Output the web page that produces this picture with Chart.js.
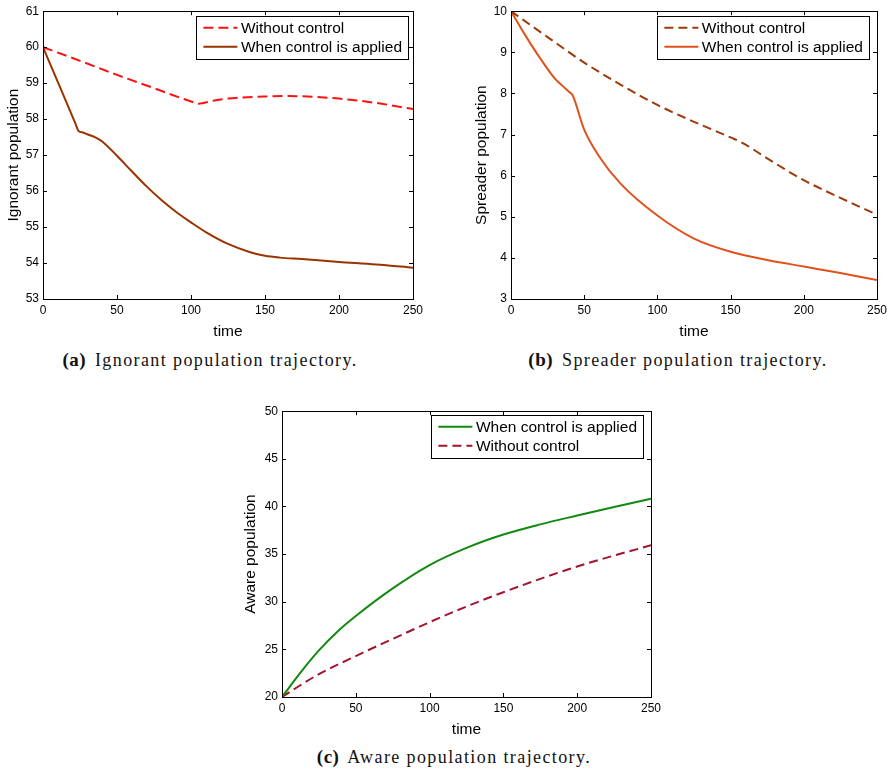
<!DOCTYPE html>
<html><head><meta charset="utf-8">
<script src="https://cdn.jsdelivr.net/npm/chart.js@4.4.1/dist/chart.umd.min.js"></script>
<style>
html,body{margin:0;padding:0;background:#fff;}
body{width:891px;height:770px;overflow:hidden;position:relative;}
canvas{position:absolute;}
.cap{position:absolute;font-family:"Liberation Serif","Times New Roman",serif;font-size:18px;line-height:20px;color:#111;white-space:nowrap;transform:translateX(-50%);letter-spacing:1.4px;}
.cap b{font-weight:bold;font-size:19px;letter-spacing:0.5px;margin-right:3px;}
</style>
</head><body>
<canvas id="cA" width="430" height="345" style="left:0;top:0"></canvas>
<canvas id="cB" width="431" height="345" style="left:460px;top:0"></canvas>
<canvas id="cC" width="441" height="345" style="left:230px;top:400px"></canvas>
<div class="cap" style="left:210px;top:350px"><b>(a)</b> Ignorant population trajectory.</div>
<div class="cap" style="left:678px;top:350px"><b>(b)</b> Spreader population trajectory.</div>
<div class="cap" style="left:454px;top:747px"><b>(c)</b> Aware population trajectory.</div>
<script>
// ---------- data ----------
const seriesLabels = ["Without control", "When control is applied"];
const xTicks = [0, 50, 100, 150, 200, 250];

// (a) Ignorant population
const timeIgnWithout = [0, 25, 50, 75, 100, 105, 115, 125, 150, 165, 200, 225, 250];
const ignorantWithout = [60, 59.62, 59.23, 58.86, 58.49, 58.43, 58.51, 58.57, 58.63, 58.64, 58.57, 58.45, 58.28];
const timeIgnControl = [0, 12, 22, 24, 27, 30, 35, 40, 50, 60, 70, 80, 90, 100, 110, 125, 140, 150, 160, 175, 200, 225, 250];
const ignorantControl = [60, 58.84, 57.87, 57.67, 57.63, 57.58, 57.50, 57.38, 56.98, 56.55, 56.13, 55.75, 55.42, 55.13, 54.86, 54.53, 54.30, 54.20, 54.15, 54.11, 54.03, 53.96, 53.87];
const ignorantTicks = [53, 54, 55, 56, 57, 58, 59, 60, 61];

// (b) Spreader population
const timeSprWithout = [0, 25, 50, 75, 100, 125, 150, 158, 175, 200, 225, 250];
const spreaderWithout = [10, 9.37, 8.75, 8.21, 7.72, 7.31, 6.93, 6.80, 6.42, 5.89, 5.46, 5.05];
const timeSprControl = [0, 10, 20, 30, 35, 40, 42, 50, 60, 75, 100, 125, 150, 175, 200, 225, 250];
const spreaderControl = [10, 9.40, 8.85, 8.36, 8.19, 8.03, 7.96, 7.12, 6.48, 5.80, 5.03, 4.47, 4.15, 3.95, 3.79, 3.63, 3.46];
const spreaderTicks = [3, 4, 5, 6, 7, 8, 9, 10];

// (c) Aware population
const timeAwareControl = [0, 12.5, 25, 37.5, 50, 75, 100, 125, 150, 175, 200, 225, 250];
const awareControl = [20, 22.56, 24.89, 26.86, 28.5, 31.4, 33.85, 35.65, 37.05, 38.12, 39.05, 39.95, 40.82];
const timeAwareWithout = [0, 10, 25, 50, 75, 100, 125, 150, 175, 200, 225, 250];
const awareWithout = [20, 21.0, 22.4, 24.3, 26.1, 27.85, 29.5, 31.0, 32.4, 33.7, 34.85, 35.92];
const awareTicks = [20, 25, 30, 35, 40, 45, 50];

// ---------- helpers ----------
const SANS = '"Liberation Sans", Arial, Helvetica, sans-serif';
const pts = (xs, ys) => xs.map((x, i) => ({x: x, y: ys[i]}));

const framePlugin = {
  id: 'frameTicks',
  afterDatasetsDraw(chart) {
    const {ctx, chartArea: a, scales: {x, y}} = chart;
    const L = 4;
    ctx.save();
    ctx.strokeStyle = '#000';
    ctx.lineWidth = 1;
    ctx.beginPath();
    x.ticks.forEach(t => {
      const px = Math.round(x.getPixelForValue(t.value)) + 0.5;
      ctx.moveTo(px, a.bottom); ctx.lineTo(px, a.bottom - L);
      ctx.moveTo(px, a.top); ctx.lineTo(px, a.top + L);
    });
    y.ticks.forEach(t => {
      const py = Math.round(y.getPixelForValue(t.value)) + 0.5;
      ctx.moveTo(a.left, py); ctx.lineTo(a.left + L, py);
      ctx.moveTo(a.right, py); ctx.lineTo(a.right - L, py);
    });
    ctx.stroke();
    ctx.strokeRect(Math.round(a.left) + 0.5, Math.round(a.top) + 0.5, Math.round(a.right - a.left), Math.round(a.bottom - a.top));
    ctx.restore();
  }
};

const legendPlugin = {
  id: 'boxLegend',
  afterDraw(chart, args, o) {
    const {ctx, chartArea: a} = chart;
    ctx.save();
    ctx.font = o.fontSize + 'px ' + SANS;
    const items = o.order.map(i => chart.data.datasets[i]);
    const tw = Math.max(...items.map(d => ctx.measureText(d.label).width));
    const w = o.padL + o.lineLen + o.gap + tw + o.padR;
    const h = o.height;
    const right = a.right - o.dx;
    const top = a.top + o.dy;
    const left = right - w;
    ctx.fillStyle = '#fff';
    ctx.fillRect(left, top, w, h);
    ctx.strokeStyle = '#000';
    ctx.lineWidth = 1;
    ctx.strokeRect(Math.round(left) + 0.5, Math.round(top) + 0.5, Math.round(w), Math.round(h));
    items.forEach((d, k) => {
      const cy = top + o.padT + o.rowH * (k + 0.5);
      ctx.save();
      ctx.strokeStyle = d.borderColor;
      ctx.lineWidth = d.borderWidth;
      ctx.setLineDash(d.borderDash || []);
      ctx.beginPath();
      ctx.moveTo(left + o.padL, cy);
      ctx.lineTo(left + o.padL + o.lineLen, cy);
      ctx.stroke();
      ctx.restore();
      ctx.fillStyle = '#000';
      ctx.textBaseline = 'middle';
      ctx.textAlign = 'left';
      ctx.fillText(d.label, left + o.padL + o.lineLen + o.gap, cy + 1);
    });
    ctx.restore();
  }
};

function makeChart(id, cfg) {
  const yTickVals = cfg.yTicks;
  return new Chart(document.getElementById(id), {
    type: 'line',
    data: {datasets: cfg.datasets},
    plugins: [framePlugin, legendPlugin],
    options: {
      responsive: false,
      animation: false,
      devicePixelRatio: 1,
      layout: {padding: {top: cfg.padTop, right: cfg.padRight, left: 0, bottom: 0}},
      elements: {point: {radius: 0}, line: {cubicInterpolationMode: 'monotone', borderCapStyle: 'butt'}},
      plugins: {
        legend: {display: false},
        tooltip: {enabled: false},
        boxLegend: cfg.legend
      },
      scales: {
        x: {
          type: 'linear', min: 0, max: 250,
          afterBuildTicks: s => { s.ticks = xTicks.map(v => ({value: v})); },
          afterFit: s => { s.height = cfg.xH; },
          grid: {display: false, drawTicks: false},
          border: {display: false},
          ticks: {font: {family: SANS, size: 12}, color: '#000', padding: 4, maxRotation: 0, autoSkip: false},
          title: {display: true, text: 'time', color: '#000', font: {family: SANS, size: 15.5, lineHeight: 1.2}, padding: {top: 0, bottom: cfg.xTitlePad}}
        },
        y: {
          type: 'linear', min: yTickVals[0], max: yTickVals[yTickVals.length - 1],
          afterBuildTicks: s => { s.ticks = yTickVals.map(v => ({value: v})); },
          afterFit: s => { s.width = cfg.yW; },
          grid: {display: false, drawTicks: false},
          border: {display: false},
          ticks: {font: {family: SANS, size: 12}, color: '#000', padding: 4, autoSkip: false},
          title: {display: true, text: cfg.yTitle, color: '#000', font: {family: SANS, size: 15.5, lineHeight: 1.2}, padding: {top: cfg.yTitlePad, bottom: 0}}
        }
      }
    }
  });
}

const legendBase = {fontSize: 15.5, padL: 7, lineLen: 34, gap: 3.5, padR: 6, rowH: 19, padT: 2, height: 43};

makeChart('cA', {
  padTop: 9, padRight: 17, yW: 43, xH: 46, xTitlePad: 4, yTitlePad: 4.7,
  yTicks: ignorantTicks, yTitle: 'Ignorant population',
  legend: Object.assign({}, legendBase, {order: [0, 1], dx: 5, dy: 5}),
  datasets: [
    {label: seriesLabels[0], data: pts(timeIgnWithout, ignorantWithout), borderColor: '#ff1010', borderWidth: 2, borderDash: [10, 5], fill: false},
    {label: seriesLabels[1], data: pts(timeIgnControl, ignorantControl), borderColor: '#993300', borderWidth: 2, fill: false}
  ]
});

makeChart('cB', {
  padTop: 9, padRight: 10, yW: 51, xH: 46, xTitlePad: 4, yTitlePad: 12.4,
  yTicks: spreaderTicks, yTitle: 'Spreader population',
  legend: Object.assign({}, legendBase, {order: [0, 1], dx: 8, dy: 5}),
  datasets: [
    {label: seriesLabels[0], data: pts(timeSprWithout, spreaderWithout), borderColor: '#9c3a0c', borderWidth: 2, borderDash: [9, 5], fill: false},
    {label: seriesLabels[1], data: pts(timeSprControl, spreaderControl), borderColor: '#e0521c', borderWidth: 2, fill: false}
  ]
});

makeChart('cC', {
  padTop: 10, padRight: 20, yW: 52, xH: 48, xTitlePad: 5.7, yTitlePad: 11.4,
  yTicks: awareTicks, yTitle: 'Aware population',
  legend: Object.assign({}, legendBase, {order: [0, 1], dx: 8, dy: 4}),
  datasets: [
    {label: seriesLabels[1], data: pts(timeAwareControl, awareControl), borderColor: '#128a12', borderWidth: 2, fill: false},
    {label: seriesLabels[0], data: pts(timeAwareWithout, awareWithout), borderColor: '#a2142f', borderWidth: 2, borderDash: [9, 5], fill: false}
  ]
});
</script>
</body></html>
